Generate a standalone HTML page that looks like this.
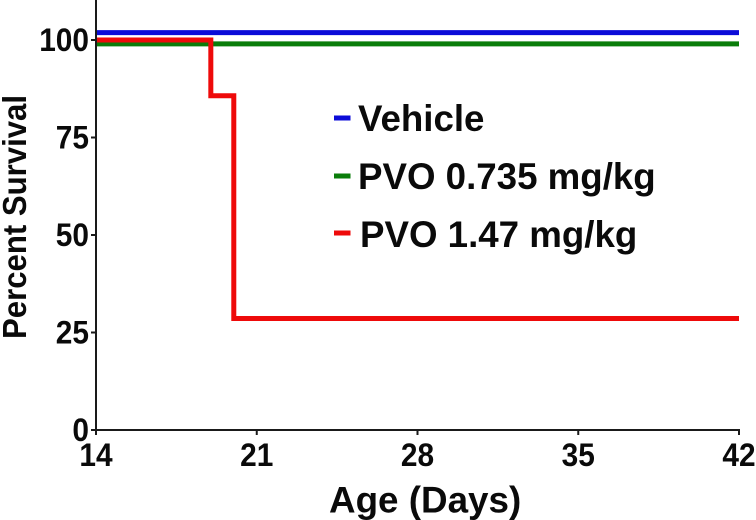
<!DOCTYPE html>
<html lang="en">
<head>
<meta charset="utf-8">
<title>Percent Survival by Age</title>
<style>
html,body{margin:0;padding:0;background:#fff;}
svg{display:block;}
text{font-family:"Liberation Sans",Arial,sans-serif;font-weight:700;fill:#0a0a0a;}
</style>
</head>
<body>
<svg id="chart" width="756" height="520" viewBox="0 0 756 520" xmlns="http://www.w3.org/2000/svg">
<rect x="0" y="0" width="756" height="520" fill="#fff"/>
<text transform="translate(26,339) rotate(-90)" font-size="33" textLength="244" lengthAdjust="spacingAndGlyphs">Percent Survival</text>
<text x="329" y="512.5" font-size="36.8">Age (Days)</text>
<g id="marks"></g>
<g id="axes"></g>
<g id="legend"></g>
</svg>
<script>
const xTickValues = [14, 21, 28, 35, 42];
const yTickValues = [0, 25, 50, 75, 100];
const seriesNames = ['Vehicle', 'PVO 0.735 mg/kg', 'PVO 1.47 mg/kg'];
const seriesColors = ['#0b0bd8', '#0a7d0a', '#ee0a0a'];
const vehicleDays = [14, 42];
const vehicleSurvival = [101.9, 101.9];
const lowDoseDays = [14, 42];
const lowDoseSurvival = [99, 99];
const highDoseDays = [14, 19, 20, 42];
const highDoseSurvival = [100, 85.7, 28.6, 28.6];

const SVGNS = 'http://www.w3.org/2000/svg';
const xScale = d => 96 + (d - 14) * (739 - 96) / 28;
const yScale = v => 430 - v * 3.9;

function make(parent, tag, attrs, text) {
  const el = document.createElementNS(SVGNS, tag);
  for (const k in attrs) el.setAttribute(k, attrs[k]);
  if (text !== undefined) el.textContent = text;
  parent.appendChild(el);
  return el;
}

function stepPath(days, vals) {
  let d = 'M' + xScale(days[0]) + ' ' + yScale(vals[0]);
  for (let i = 1; i < days.length; i++) {
    d += ' H' + xScale(days[i]);
    d += ' V' + yScale(vals[i]);
  }
  return d;
}

const marks = document.getElementById('marks');
const axes = document.getElementById('axes');
const legend = document.getElementById('legend');

const seriesDays = [vehicleDays, lowDoseDays, highDoseDays];
const seriesVals = [vehicleSurvival, lowDoseSurvival, highDoseSurvival];
const seriesKeys = ['vehicle', 'low-dose', 'high-dose'];
const legendRowY = [118, 176, 233];
const legendTextY = [131, 189, 247];
const legendTextX = [358, 358, 360];

seriesKeys.forEach((key, i) => {
  const line = make(marks, 'path', {
    d: stepPath(seriesDays[i], seriesVals[i]),
    fill: 'none',
    stroke: seriesColors[i],
    'stroke-width': 5,
    'stroke-linejoin': 'miter',
    'stroke-linecap': 'butt'
  });
  
  

  const swatch = make(legend, 'rect', {
    x: 334, y: legendRowY[i] - 2.5, width: 16.5, height: 5, fill: seriesColors[i]
  });
  
  

  const label = make(legend, 'text', {
    x: legendTextX[i], y: legendTextY[i], 'font-size': 36.7
  }, seriesNames[i]);
  
  
});

const yAxisLine = make(axes, 'line', {x1: 96, y1: 0, x2: 96, y2: 431, stroke: '#1a1a1a', 'stroke-width': 2});



const xAxisLine = make(axes, 'line', {x1: 91, y1: 430, x2: 740, y2: 430, stroke: '#1a1a1a', 'stroke-width': 2});



yTickValues.forEach(v => {
  const tick = make(axes, 'line', {x1: 91, y1: yScale(v), x2: 96, y2: yScale(v), stroke: '#1a1a1a', 'stroke-width': 2});
  
  
  const label = make(axes, 'text', {
    x: 89, y: yScale(v) + 11, 'font-size': 32, 'text-anchor': 'end',
    textLength: String(v).length * 16.6, lengthAdjust: 'spacingAndGlyphs'
  }, String(v));
  
  
});

xTickValues.forEach(d => {
  const tick = make(axes, 'line', {x1: xScale(d), y1: 430, x2: xScale(d), y2: 435, stroke: '#1a1a1a', 'stroke-width': 2});
  
  
  const label = make(axes, 'text', {
    x: xScale(d), y: 466, 'font-size': 32, 'text-anchor': 'middle',
    textLength: String(d).length * 16.6, lengthAdjust: 'spacingAndGlyphs'
  }, String(d));
  
  
});
</script>
</body>
</html>
